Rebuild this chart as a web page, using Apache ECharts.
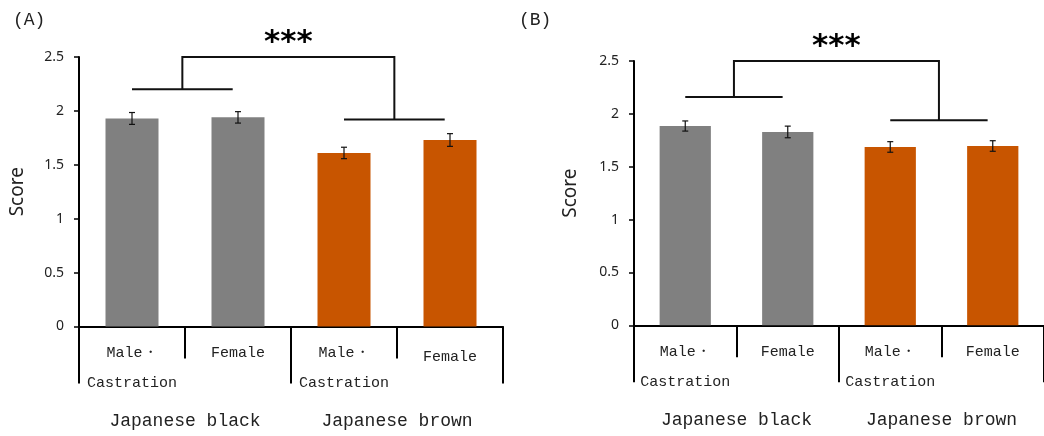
<!DOCTYPE html>
<html>
<head>
<meta charset="utf-8">
<script src="https://cdn.jsdelivr.net/npm/echarts@6/dist/echarts.min.js"></script>
<style>html,body{margin:0;padding:0;background:#fff;}#c{width:1044px;height:436px;}</style>
</head>
<body>
<div id="c"></div>
<script>
// ---- data ----
const categories = ['Male・\nCastration', 'Female', 'Male・\nCastration', 'Female'];
const groups = ['Japanese black', 'Japanese brown'];
const scoreA = [1.93, 1.94, 1.61, 1.73];
const errA = [0.055, 0.053, 0.053, 0.059];
const scoreB = [1.885, 1.829, 1.687, 1.696];
const errB = [0.048, 0.055, 0.050, 0.050];
const barColors = ['#808080', '#808080', '#C85500', '#C85500'];
// bracket levels: [top, left group line, right group line]
const bracketA = [2.5, 2.2, 1.92];
const bracketB = [2.5, 2.16, 1.94];
const sigLabel = '***';
const yMin = 0, yMax = 2.5, yInterval = 0.5;

const chart = echarts.init(document.getElementById('c'));
const txt = '#222';
const mono = 'Liberation Mono';

function catAxis(gi, fmtLowIdx) {
  return {
    type: 'category', gridIndex: gi, data: categories, position: 'bottom',
    axisLine: { show: true, lineStyle: { color: '#000', width: 2 } },
    axisTick: { show: true, interval: 0, length: 32, lineStyle: { color: '#000', width: 2 } },
    axisLabel: {
      interval: 0, margin: 12, color: txt, fontFamily: mono, fontSize: 15, lineHeight: 30,
      formatter: function (v, i) { return (fmtLowIdx !== null && i === fmtLowIdx) ? '{low|' + v + '}' : v; },
      rich: { low: { fontFamily: mono, fontSize: 15, color: txt, lineHeight: 30, padding: [8, 0, 0, 0] } }
    }
  };
}
function grpAxis(gi) {
  return {
    type: 'category', gridIndex: gi, data: groups, position: 'bottom',
    axisLine: { show: false },
    axisTick: { show: true, interval: 0, length: 57, lineStyle: { color: '#000', width: 2 } },
    axisLabel: { interval: 0, margin: 86, color: txt, fontFamily: mono, fontSize: 18 }
  };
}
function valAxis(gi, nameGap) {
  return {
    type: 'value', gridIndex: gi, min: yMin, max: yMax, interval: yInterval,
    splitLine: { show: false },
    axisLine: { show: true, lineStyle: { color: '#000', width: 2 } },
    axisTick: { show: true, length: 5, lineStyle: { color: '#000', width: 1.5 } },
    axisLabel: { margin: 15, color: txt, fontFamily: 'Noto Sans', fontSize: 14 },
    name: 'Score', nameLocation: 'middle', nameRotate: 90, nameGap: nameGap,
    nameTextStyle: { color: txt, fontFamily: 'Noto Sans', fontSize: 19 }
  };
}
function barSeries(xi, yi, vals) {
  return {
    type: 'bar', xAxisIndex: xi, yAxisIndex: yi, barWidth: '50%',
    data: vals.map((v, i) => ({ value: v, itemStyle: { color: barColors[i] } })),
    emphasis: { disabled: true }, silent: true
  };
}
function errSeries(xi, yi, vals, errs) {
  return {
    type: 'custom', xAxisIndex: xi, yAxisIndex: yi, silent: true, z: 5,
    data: vals.map((v, i) => [i, v - errs[i], v + errs[i]]),
    renderItem: function (params, api) {
      const lo = api.coord([api.value(0), api.value(1)]);
      const hi = api.coord([api.value(0), api.value(2)]);
      const w = 3;
      const st = { stroke: '#111', lineWidth: 1.2 };
      return {
        type: 'group', children: [
          { type: 'line', shape: { x1: lo[0], y1: lo[1], x2: hi[0], y2: hi[1] }, style: st },
          { type: 'line', shape: { x1: lo[0] - w, y1: lo[1], x2: lo[0] + w, y2: lo[1] }, style: st },
          { type: 'line', shape: { x1: hi[0] - w, y1: hi[1], x2: hi[0] + w, y2: hi[1] }, style: st }
        ]
      };
    }
  };
}
function bracketSeries(xi, yi, lv) {
  return {
    type: 'custom', xAxisIndex: xi, yAxisIndex: yi, silent: true, z: 6,
    data: [[0, lv[0], lv[1], lv[2]]],
    renderItem: function (params, api) {
      const c = [0, 1, 2, 3].map(i => api.coord([i, 0])[0]);
      const yTop = api.coord([0, api.value(1)])[1];
      const yL = api.coord([0, api.value(2)])[1];
      const yR = api.coord([0, api.value(3)])[1];
      const lx1 = c[0], lx2 = c[1] - (c[1] - c[0]) * 0.05;
      const rx1 = c[2], rx2 = c[3] - (c[3] - c[2]) * 0.05;
      const lm = (lx1 + lx2) / 2, rm = (rx1 + rx2) / 2;
      const st = { stroke: '#111', lineWidth: 2 };
      return {
        type: 'group', children: [
          { type: 'line', shape: { x1: lx1, y1: yL, x2: lx2, y2: yL }, style: st },
          { type: 'line', shape: { x1: rx1, y1: yR, x2: rx2, y2: yR }, style: st },
          { type: 'polyline', shape: { points: [[lm, yL], [lm, yTop], [rm, yTop], [rm, yR]] }, style: { stroke: '#111', lineWidth: 2, fill: null } },
          { type: 'text', x: (lm + rm) / 2, y: yTop - 14, style: { text: sigLabel, fontFamily: 'DejaVu Sans', fontWeight: 'bold', fontSize: 31, fill: '#000', align: 'center', verticalAlign: 'middle' } }
        ]
      };
    }
  };
}

const option = {
  backgroundColor: '#fff',
  animation: false,
  title: [
    { text: '(A)', left: 8, top: 6, textStyle: { fontFamily: mono, fontSize: 18, fontWeight: 'normal', color: txt } },
    { text: '(B)', left: 514, top: 6, textStyle: { fontFamily: mono, fontSize: 18, fontWeight: 'normal', color: txt } }
  ],
  grid: [
    { left: 79, top: 57, width: 424, height: 269.5 },
    { left: 634, top: 61, width: 416, height: 264.3 }
  ],
  xAxis: [catAxis(0, 3), grpAxis(0), catAxis(1, null), grpAxis(1)],
  yAxis: [valAxis(0, 52), valAxis(1, 54)],
  series: [
    barSeries(0, 0, scoreA), errSeries(0, 0, scoreA, errA), bracketSeries(0, 0, bracketA),
    barSeries(2, 1, scoreB), errSeries(2, 1, scoreB, errB), bracketSeries(2, 1, bracketB)
  ]
};
chart.setOption(option);
</script>
</body>
</html>
